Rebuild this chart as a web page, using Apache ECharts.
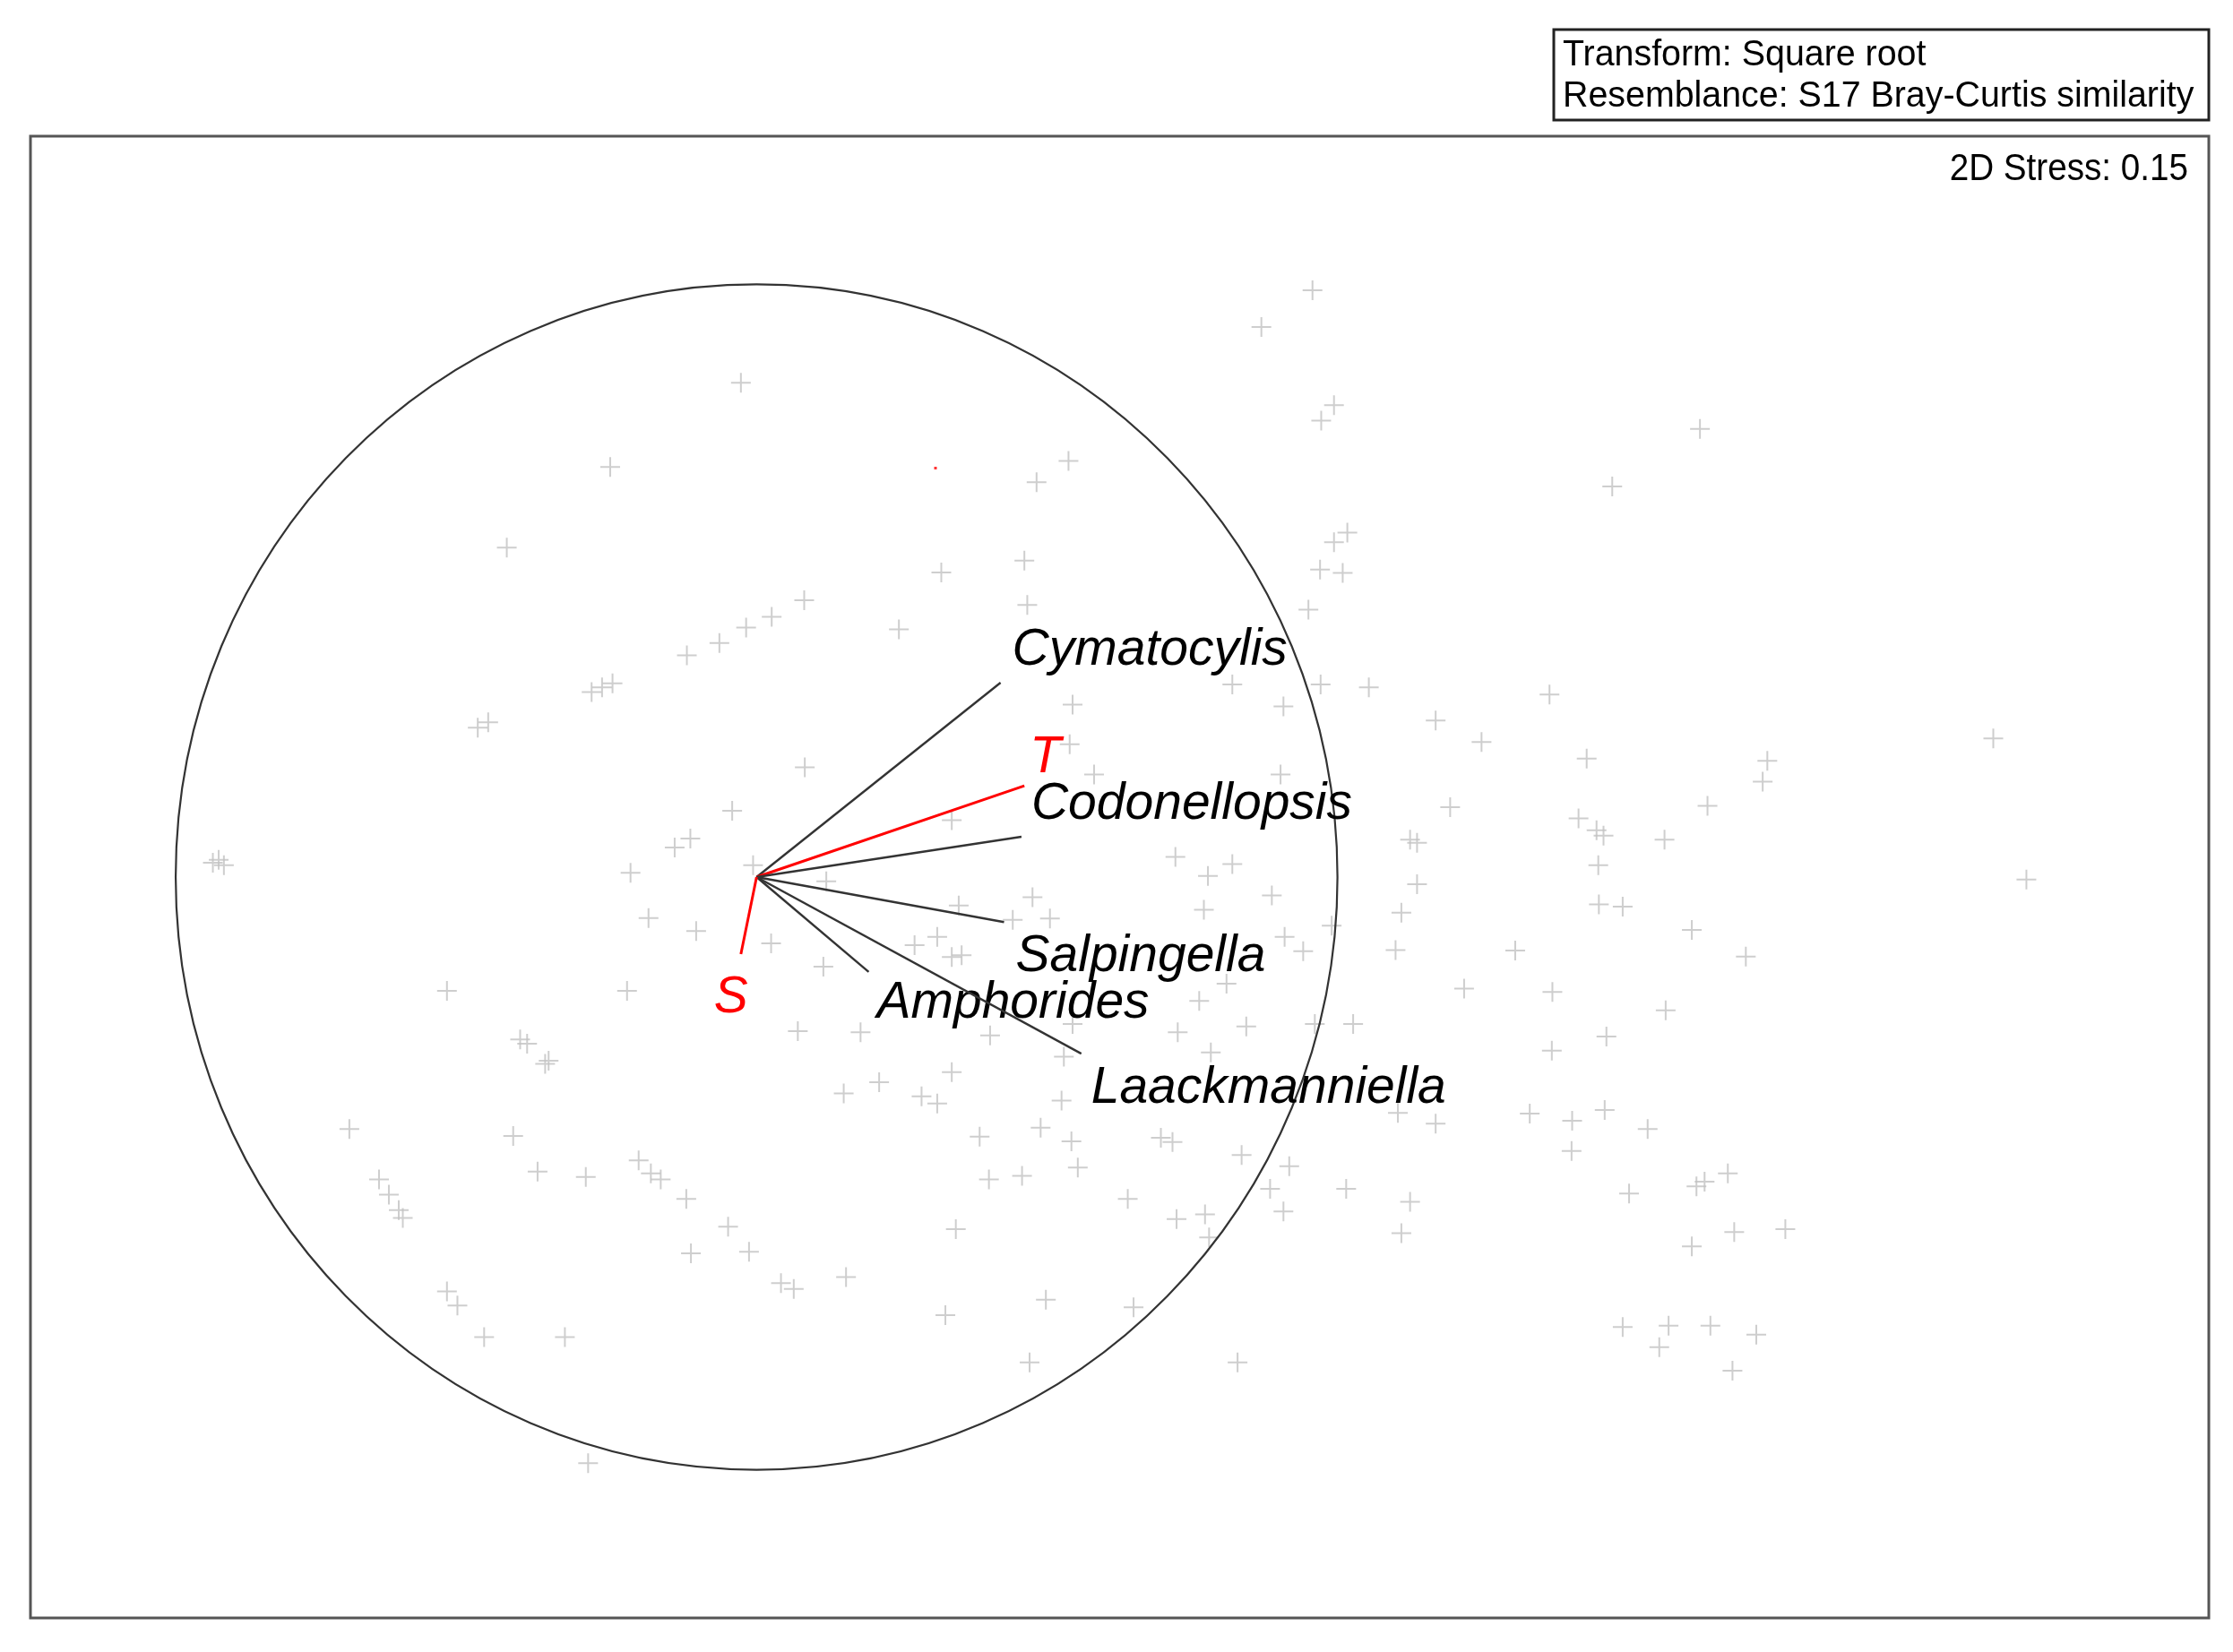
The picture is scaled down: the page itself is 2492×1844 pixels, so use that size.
<!DOCTYPE html>
<html>
<head>
<meta charset="utf-8">
<script src="https://cdn.jsdelivr.net/npm/echarts@6/dist/echarts.min.js"></script>
<style>
  html, body { margin: 0; padding: 0; background: #fff; }
  #chart { width: 2492px; height: 1844px; }
</style>
</head>
<body>
<div id="chart"></div>
<script>
// nMDS sample coordinates
var samplePoints = [
  [-0.027,0.834],[-0.252,0.692],[-0.430,0.556],[0.026,0.439],[-0.018,0.421],[-0.064,0.395],[-0.120,0.374],
  [-0.284,0.312],[-0.266,0.320],[-0.248,0.327],[-0.480,0.252],[-0.462,0.261],
  [-0.936,0.024],[-0.926,0.029],[-0.917,0.020],[-0.042,0.112],[-0.141,0.050],[-0.114,0.065],
  [-0.217,0.007],[-0.006,0.020],[-0.186,-0.069],[-0.104,-0.091],[0.025,-0.112],[-0.533,-0.192],
  [-0.223,-0.192],[-0.407,-0.274],[-0.395,-0.281],[-0.364,-0.315],[-0.358,-0.310],
  [0.957,0.990],[0.869,0.928],[0.994,0.796],[0.972,0.770],[0.537,0.702],[0.482,0.666],
  [1.017,0.581],[0.994,0.565],[0.970,0.519],[1.009,0.513],[0.461,0.534],[0.318,0.514],
  [0.466,0.459],[0.950,0.451],[0.082,0.467],[0.245,0.418],
  [1.624,0.756],[1.473,0.659],
  [0.819,0.325],[0.971,0.325],[1.054,0.320],[0.544,0.291],[0.907,0.288],[1.169,0.264],
  [1.248,0.228],[0.539,0.224],[0.083,0.185],[0.581,0.173],[0.902,0.173],[1.194,0.118],
  [0.336,0.096],[1.125,0.063],[1.137,0.058],[0.721,0.034],[0.819,0.022],[0.777,0.002],
  [1.137,-0.012],[0.120,-0.007],[0.475,-0.034],[0.887,-0.031],[0.770,-0.055],[1.110,-0.060],
  [0.348,-0.048],[0.441,-0.072],[0.505,-0.070],[0.990,-0.082],[0.909,-0.101],[0.941,-0.125],
  [1.100,-0.123],[0.272,-0.115],[0.311,-0.101],[0.336,-0.135],[0.353,-0.132],[0.115,-0.151],
  [1.218,-0.188],[0.809,-0.180],[0.762,-0.209],[0.071,-0.260],[0.179,-0.262],[0.402,-0.267],
  [0.544,-0.248],[0.725,-0.262],[0.843,-0.252],[0.961,-0.248],[1.027,-0.248],[0.782,-0.296],
  [0.529,-0.303],[0.336,-0.329],[0.211,-0.346],[0.150,-0.365],[0.284,-0.370],[0.311,-0.382],
  [0.525,-0.377],
  [1.104,-0.398],[1.169,-0.416],[0.384,-0.438],[0.489,-0.423],[0.542,-0.446],[0.696,-0.440],
  [0.716,-0.447],[0.835,-0.469],[0.917,-0.488],[0.400,-0.510],[0.457,-0.504],[0.553,-0.490],
  [0.639,-0.543],[0.723,-0.577],[0.772,-0.569],[0.884,-0.526],[0.907,-0.564],[1.015,-0.526],
  [1.125,-0.548],[1.110,-0.601],[0.779,-0.608],[0.343,-0.594],[0.042,-0.685],[0.064,-0.695],
  [0.154,-0.675],[0.498,-0.713],[0.649,-0.726],[0.325,-0.739],[0.470,-0.819],[0.828,-0.819],
  [-0.701,-0.425],[-0.419,-0.437],[-0.650,-0.510],[-0.633,-0.536],[-0.616,-0.562],[-0.609,-0.575],
  [-0.377,-0.497],[-0.294,-0.506],[-0.203,-0.478],[-0.182,-0.500],[-0.165,-0.510],[-0.121,-0.543],
  [-0.049,-0.590],[-0.113,-0.635],[-0.013,-0.632],[-0.533,-0.699],[-0.515,-0.723],[-0.469,-0.776],
  [-0.330,-0.776],[-0.290,-0.989],
  [1.331,-0.399],[1.404,-0.411],[1.460,-0.393],[1.534,-0.425],[1.403,-0.462],[1.502,-0.534],
  [1.618,-0.522],[1.632,-0.514],[1.672,-0.500],[1.610,-0.623],[1.683,-0.599],[1.771,-0.594],
  [1.491,-0.759],[1.570,-0.757],[1.642,-0.757],[1.721,-0.772],[1.554,-0.793],[1.680,-0.833],
  [1.365,0.308],[1.429,0.200],[2.129,0.234],[1.740,0.196],[1.732,0.161],[1.637,0.120],
  [1.415,0.099],[1.446,0.079],[1.458,0.070],[1.563,0.063],[1.449,0.020],[2.186,-0.004],
  [1.450,-0.046],[1.491,-0.050],[1.610,-0.089],[1.306,-0.124],[1.703,-0.134],[1.370,-0.194],
  [1.565,-0.225],[1.463,-0.269],[1.369,-0.293]
];
var strayPoints = [[0.308, 0.690]];

// vector overlay (Pearson correlation vectors)
var vectorNames = ['Cymatocylis', 'T', 'Codonellopsis', 'Salpingella', 'Amphorides', 'Laackmanniella', 'S'];
var vectorX = [0.420, 0.461, 0.456, 0.426, 0.193, 0.559, -0.027];
var vectorY = [0.328, 0.154, 0.068, -0.076, -0.160, -0.298, -0.130];
var envVars = ['T', 'S'];
var circleRadius = [1];

var legendLines = ['Transform: Square root', 'Resemblance: S17 Bray-Curtis similarity'];
var stressText = '2D Stress: 0.15';

// label placement (pixels from the vector tip)
var labelOffset = {
  Cymatocylis: [13, -36], T: [6, -31], Codonellopsis: [11, -36],
  Salpingella: [13, 39], Amphorides: [9, 35], Laackmanniella: [11, 39], S: [-30, 49]
};

var FONT = '"Liberation Sans", Arial, sans-serif';
var chart = echarts.init(document.getElementById('chart'));

var vectorData = vectorNames.map(function (n, i) { return [vectorX[i], vectorY[i], n]; });

var option = {
  backgroundColor: '#fff',
  animation: false,
  grid: {
    left: 34, top: 152, width: 2431, height: 1654,
    show: true, borderColor: '#555', borderWidth: 3, backgroundColor: 'transparent'
  },
  xAxis: {
    type: 'value', min: -1.25, max: 2.5,
    axisLine: { show: false }, axisTick: { show: false },
    axisLabel: { show: false }, splitLine: { show: false }
  },
  yAxis: {
    type: 'value', min: -1.25, max: 1.25,
    axisLine: { show: false }, axisTick: { show: false },
    axisLabel: { show: false }, splitLine: { show: false }
  },
  series: [
    {
      type: 'scatter',
      data: samplePoints,
      symbol: 'path://M10,0h2v10h10v2h-10v10h-2v-10h-10v-2h10z',
      symbolSize: 22,
      itemStyle: { color: '#c2c2c2' },
      z: 2
    },
    {
      type: 'scatter',
      data: strayPoints,
      symbol: 'rect',
      symbolSize: 3,
      itemStyle: { color: '#ff0000' },
      z: 2
    },
    {
      // correlation circle
      type: 'custom',
      data: [[0, 0, circleRadius[0]]],
      renderItem: function (params, api) {
        var c = api.coord([api.value(0), api.value(1)]);
        var s = api.size([api.value(2), api.value(2)]);
        return {
          type: 'ellipse',
          shape: { cx: c[0], cy: c[1], rx: s[0], ry: s[1] },
          style: { fill: 'none', stroke: '#333', lineWidth: 2.2 }
        };
      },
      z: 3
    },
    {
      type: 'custom',
      data: vectorData,
      renderItem: function (params, api) {
        var o = api.coord([0, 0]);
        var e = api.coord([api.value(0), api.value(1)]);
        var name = vectorNames[params.dataIndex];
        var isEnv = envVars.indexOf(name) >= 0;
        var off = labelOffset[name];
        return {
          type: 'group',
          children: [
            {
              type: 'line',
              shape: { x1: o[0], y1: o[1], x2: e[0], y2: e[1] },
              style: { stroke: isEnv ? '#ff0000' : '#333', lineWidth: isEnv ? 3 : 2.4 }
            },
            {
              type: 'text',
              x: e[0] + off[0],
              y: e[1] + off[1],
              style: {
                text: name,
                fill: isEnv ? '#ff0000' : '#000',
                font: 'italic 57px ' + FONT,
                align: 'left',
                verticalAlign: 'middle'
              }
            }
          ]
        };
      },
      z: 4
    }
  ],
  graphic: [
    {
      type: 'rect',
      shape: { x: 1734, y: 33, width: 731, height: 101 },
      style: { fill: '#fff', stroke: '#222', lineWidth: 3 }
    },
    {
      type: 'text', x: 1744, y: 62, scaleX: 0.96,
      style: { text: legendLines[0], fill: '#000', font: '41px ' + FONT, align: 'left', verticalAlign: 'middle' }
    },
    {
      type: 'text', x: 1744, y: 108, scaleX: 0.96,
      style: { text: legendLines[1], fill: '#000', font: '41px ' + FONT, align: 'left', verticalAlign: 'middle' }
    },
    {
      type: 'text', x: 2442, y: 189, scaleX: 0.92,
      style: { text: stressText, fill: '#000', font: '42px ' + FONT, align: 'right', verticalAlign: 'middle' }
    }
  ]
};

chart.setOption(option);
</script>
</body>
</html>
